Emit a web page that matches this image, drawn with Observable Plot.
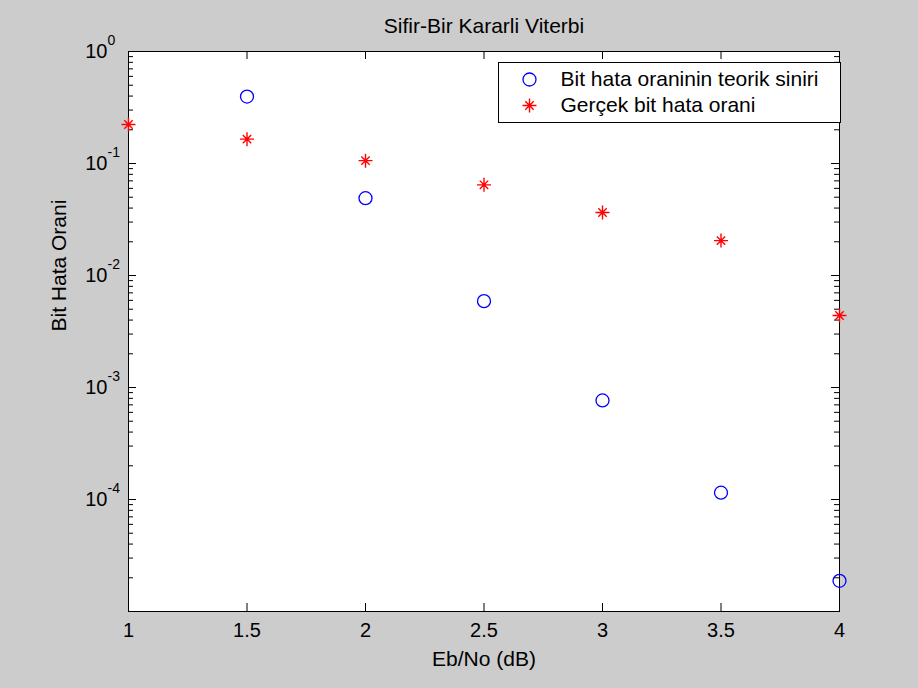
<!DOCTYPE html>
<html><head><meta charset="utf-8">
<script src="https://cdn.jsdelivr.net/npm/d3@7"></script>
<script src="https://cdn.jsdelivr.net/npm/@observablehq/plot@0.6"></script>
<style>html,body{margin:0;padding:0;background:#cccccc;} svg{display:block}</style>
</head><body><div id="chart"></div>
<script>
const chartTitle = "Sifir-Bir Kararli Viterbi";
const xLabel = "Eb/No (dB)";
const yLabel = "Bit Hata Orani";
const legendLabels = ["Bit hata oraninin teorik siniri", "Gerçek bit hata orani"];

const ebNo = [1, 1.5, 2, 2.5, 3, 3.5, 4];
const boundEbNo = [1.5, 2, 2.5, 3, 3.5, 4];
const boundBER = [0.396, 0.049, 0.0059, 0.000766, 0.000115, 0.0000188];
const simBER = [0.223, 0.165, 0.106, 0.0645, 0.0365, 0.0205, 0.0044];

const xTicks = [1, 1.5, 2, 2.5, 3, 3.5, 4];
const xTickLabels = ["1", "1.5", "2", "2.5", "3", "3.5", "4"];
const yTicks = [1e-5, 1e-4, 1e-3, 1e-2, 1e-1, 1];
const yLabelTicks = [1e-4, 1e-3, 1e-2, 1e-1, 1];
const yLabelExp = ["-4", "-3", "-2", "-1", "0"];
const yMinor = [];
for (const e of [-5, -4, -3, -2, -1]) for (const m of [2,3,4,5,6,7,8,9]) yMinor.push(m * Math.pow(10, e));

const W = 918, H = 688, mL = 128, mR = 79, mT = 51, mB = 77;
const iW = W - mL - mR, iH = H - mT - mB;
const majorLen = 8, minorLen = 5;
const BLUE = "#0000ff", RED = "#ff0000";

const star8 = {
  draw(ctx, size) {
    const r = Math.sqrt(size / Math.PI), d = r * 0.6;
    ctx.moveTo(-r, 0); ctx.lineTo(r, 0);
    ctx.moveTo(0, -r); ctx.lineTo(0, r);
    ctx.moveTo(-d, -d); ctx.lineTo(d, d);
    ctx.moveTo(-d, d); ctx.lineTo(d, -d);
  }
};

const chart = Plot.plot({
  width: W, height: H,
  marginLeft: mL, marginRight: mR, marginTop: mT, marginBottom: mB,
  style: {fontFamily: "'Liberation Sans', Arial, sans-serif", fontSize: "20px", background: "#cccccc", color: "black"},
  x: {domain: [1, 4], axis: null},
  y: {type: "log", domain: [1e-5, 1], axis: null},
  marks: [
    Plot.frame({fill: "white", stroke: null}),
    Plot.tickX(xTicks, {x: d => d, insetTop: iH - majorLen, stroke: "black"}),
    Plot.tickX(xTicks, {x: d => d, insetBottom: iH - majorLen, stroke: "black"}),
    Plot.tickY(yTicks, {y: d => d, insetRight: iW - majorLen, stroke: "black"}),
    Plot.tickY(yTicks, {y: d => d, insetLeft: iW - majorLen, stroke: "black"}),
    Plot.tickY(yMinor, {y: d => d, insetRight: iW - minorLen, stroke: "black"}),
    Plot.tickY(yMinor, {y: d => d, insetLeft: iW - minorLen, stroke: "black"}),
    Plot.frame({stroke: "black", strokeWidth: 1}),
    Plot.axisX({ticks: xTicks, tickFormat: (d, i) => xTickLabels[i], tickSize: 0, tickPadding: 11, label: null, fontSize: 20}),
    Plot.text(yLabelTicks, {y: d => d, text: () => "10", frameAnchor: "left", textAnchor: "end", dx: -21, fontSize: 20}),
    Plot.text(yLabelTicks, {y: d => d, text: (d, i) => yLabelExp[i], frameAnchor: "left", textAnchor: "start", dx: -21, dy: -11, fontSize: 14}),
    Plot.dot(boundEbNo, {x: d => d, y: (d, i) => boundBER[i], r: 6.5, stroke: BLUE, strokeWidth: 1.3, fill: "none"}),
    Plot.dot(ebNo, {x: d => d, y: (d, i) => simBER[i], r: 7, symbol: star8, stroke: RED, strokeWidth: 1.4, fill: "none"}),
    // legend
    Plot.frame({fill: "white", stroke: "black", insetLeft: 370, insetRight: -1, insetTop: 11, insetBottom: 489}),
    Plot.dot([0], {frameAnchor: "top-right", dx: -310, dy: 28, r: 6.5, stroke: BLUE, strokeWidth: 1.3, fill: "none"}),
    Plot.dot([0], {frameAnchor: "top-right", dx: -310, dy: 54, r: 7, symbol: star8, stroke: RED, strokeWidth: 1.4, fill: "none"}),
    Plot.text([legendLabels[0]], {text: d => d, frameAnchor: "top-right", lineAnchor: "middle", dx: -279, dy: 28, textAnchor: "start", fontSize: 21}),
    Plot.text([legendLabels[1]], {text: d => d, frameAnchor: "top-right", lineAnchor: "middle", dx: -279, dy: 54, textAnchor: "start", fontSize: 21}),
    // titles
    Plot.text([chartTitle], {text: d => d, frameAnchor: "top", lineAnchor: "middle", dy: -25, fontSize: 21}),
    Plot.text([xLabel], {text: d => d, frameAnchor: "bottom", lineAnchor: "middle", dy: 48, fontSize: 21}),
    Plot.text([yLabel], {text: d => d, frameAnchor: "left", lineAnchor: "middle", dx: -69, rotate: -90, fontSize: 21})
  ]
});
document.getElementById("chart").append(chart);
</script>
</body></html>
